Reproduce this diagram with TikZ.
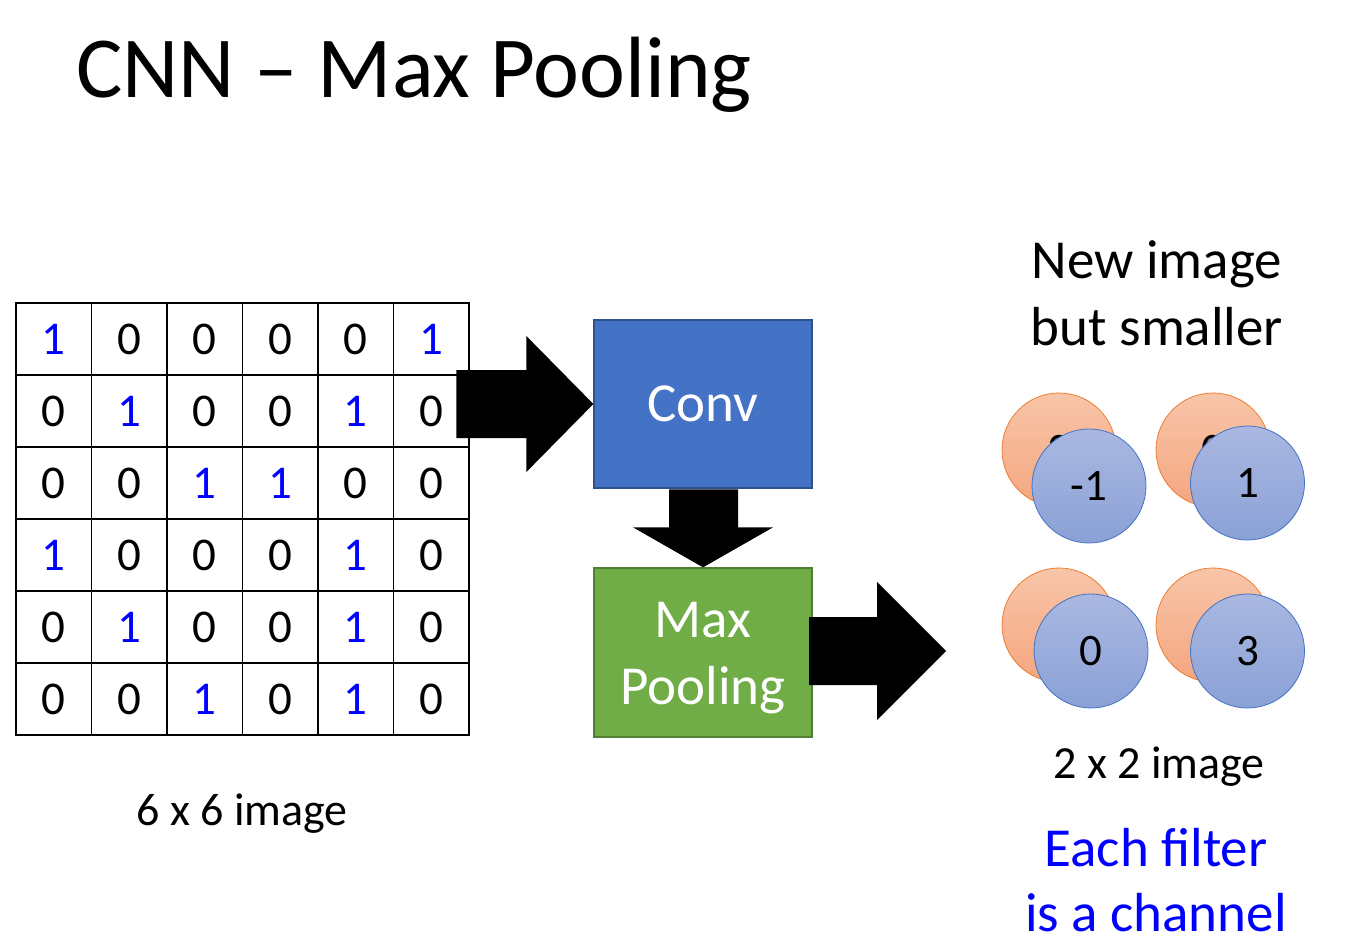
\documentclass[tikz,border=0pt]{standalone}
\usepackage{fontspec}
\setmainfont{Carlito}
\usetikzlibrary{positioning}
\definecolor{pureblue}{RGB}{0,0,255}
\definecolor{convblue}{HTML}{4472C4}
\definecolor{convedge}{HTML}{2F528F}
\definecolor{poolgreen}{HTML}{70AD47}
\definecolor{pooledge}{HTML}{507E32}
\definecolor{orangetop}{HTML}{F8C5A9}
\definecolor{orangebot}{HTML}{F4A67F}
\definecolor{orangeedge}{HTML}{ED7D31}
\definecolor{bluetop}{HTML}{AAB8E1}
\definecolor{bluebot}{HTML}{8AA1D6}
\tikzset{
    pixel/.style={draw, line width=1.6pt, minimum width=75.5pt, minimum height=72pt,
      inner sep=0pt, font=\fontsize{47}{47}\selectfont},
    val1/.style={text=pureblue},
    val0/.style={text=black},
    opbox/.style={minimum width=218pt, minimum height=168pt, line width=1.3pt,
      text=white, align=center, inner sep=0pt, font=\fontsize{55}{67}\selectfont},
    chan/.style={circle, minimum size=114pt, inner sep=0pt, line width=0.8pt,
      font=\fontsize{45}{45}\selectfont},
    chanA/.style={chan, draw=orangeedge, top color=orangetop, bottom color=orangebot},
    chanB/.style={chan, draw=convblue, top color=bluetop, bottom color=bluebot},
    imgtext/.style={inner sep=0pt, anchor=base, font=\fontsize{46}{46}\selectfont},
    bigtext/.style={imgtext, font=\fontsize{55}{55}\selectfont},
    blockarrow/.style={fill=black}
  }
\begin{document}
\begin{tikzpicture}[x=1pt, y=-1pt]
  \useasboundingbox (0,0) rectangle (1354,942);
  \node[imgtext, anchor=base west, font=\fontsize{87}{87}\selectfont] (title) at (76,97) {CNN – Max Pooling};
  \foreach \row [count=\r] in {{1,0,0,0,0,1},{0,1,0,0,1,0},{0,0,1,1,0,0},{1,0,0,0,1,0},{0,1,0,0,1,0},{0,0,1,0,1,0}}
    \foreach \v [count=\c] in \row
      \node[pixel, val\v] (p\r\c) at ({16+75.5*(\c-0.5)}, {303+72*(\r-0.5)}) {\v};
  \node[imgtext] (gridname) at (242,825) {6 x 6 image};
  \node[opbox, fill=convblue, draw=convedge] (conv) at (703,404) {Conv};
  \node[opbox, fill=poolgreen, draw=pooledge, minimum height=169pt] (pool) at (703,652.5) {\rule{0pt}{47pt}Max\\Pooling};
  \coordinate (outtip) at (946,651);
  \fill[blockarrow] (conv.west) -- ++(-67,-68) -- ++(0,34) -- ++(-70,0) -- ++(0,68) -- ++(70,0) -- ++(0,34) -- cycle;
  \fill[blockarrow] (pool.north) -- ++(-70,-40) -- ++(36,0) -- ++(0,-38) -- ++(69,0) -- ++(0,38) -- ++(35,0) -- cycle;
  \fill[blockarrow] (outtip) -- ++(-69,-69) -- ++(0,35) -- ++(-68,0) -- ++(0,68) -- ++(68,0) -- ++(0,35) -- cycle;
  \node[bigtext] (new1) at (1157,278) {New image};
  \node[bigtext] (new2) at (1157,345) {but smaller};
  \node[chanA] (a11) at (1059,450) {3};
  \node[chanB] (b11) at (1089,486) {-1};
  \node[chanA] (a12) at (1213,450) {0};
  \node[chanB] (b12) at (1247.5,483) {1};
  \node[chanA] (a21) at (1059,625) {};
  \node[chanB] (b21) at (1091,651) {0};
  \node[chanA] (a22) at (1213,625) {};
  \node[chanB] (b22) at (1247.5,651) {3};
  \node[imgtext] (outname) at (1159,778) {2 x 2 image};
  \node[bigtext, text=pureblue] (note1) at (1156,866) {Each filter};
  \node[bigtext, text=pureblue] (note2) at (1156,931) {is a channel};
\end{tikzpicture}
\end{document}
